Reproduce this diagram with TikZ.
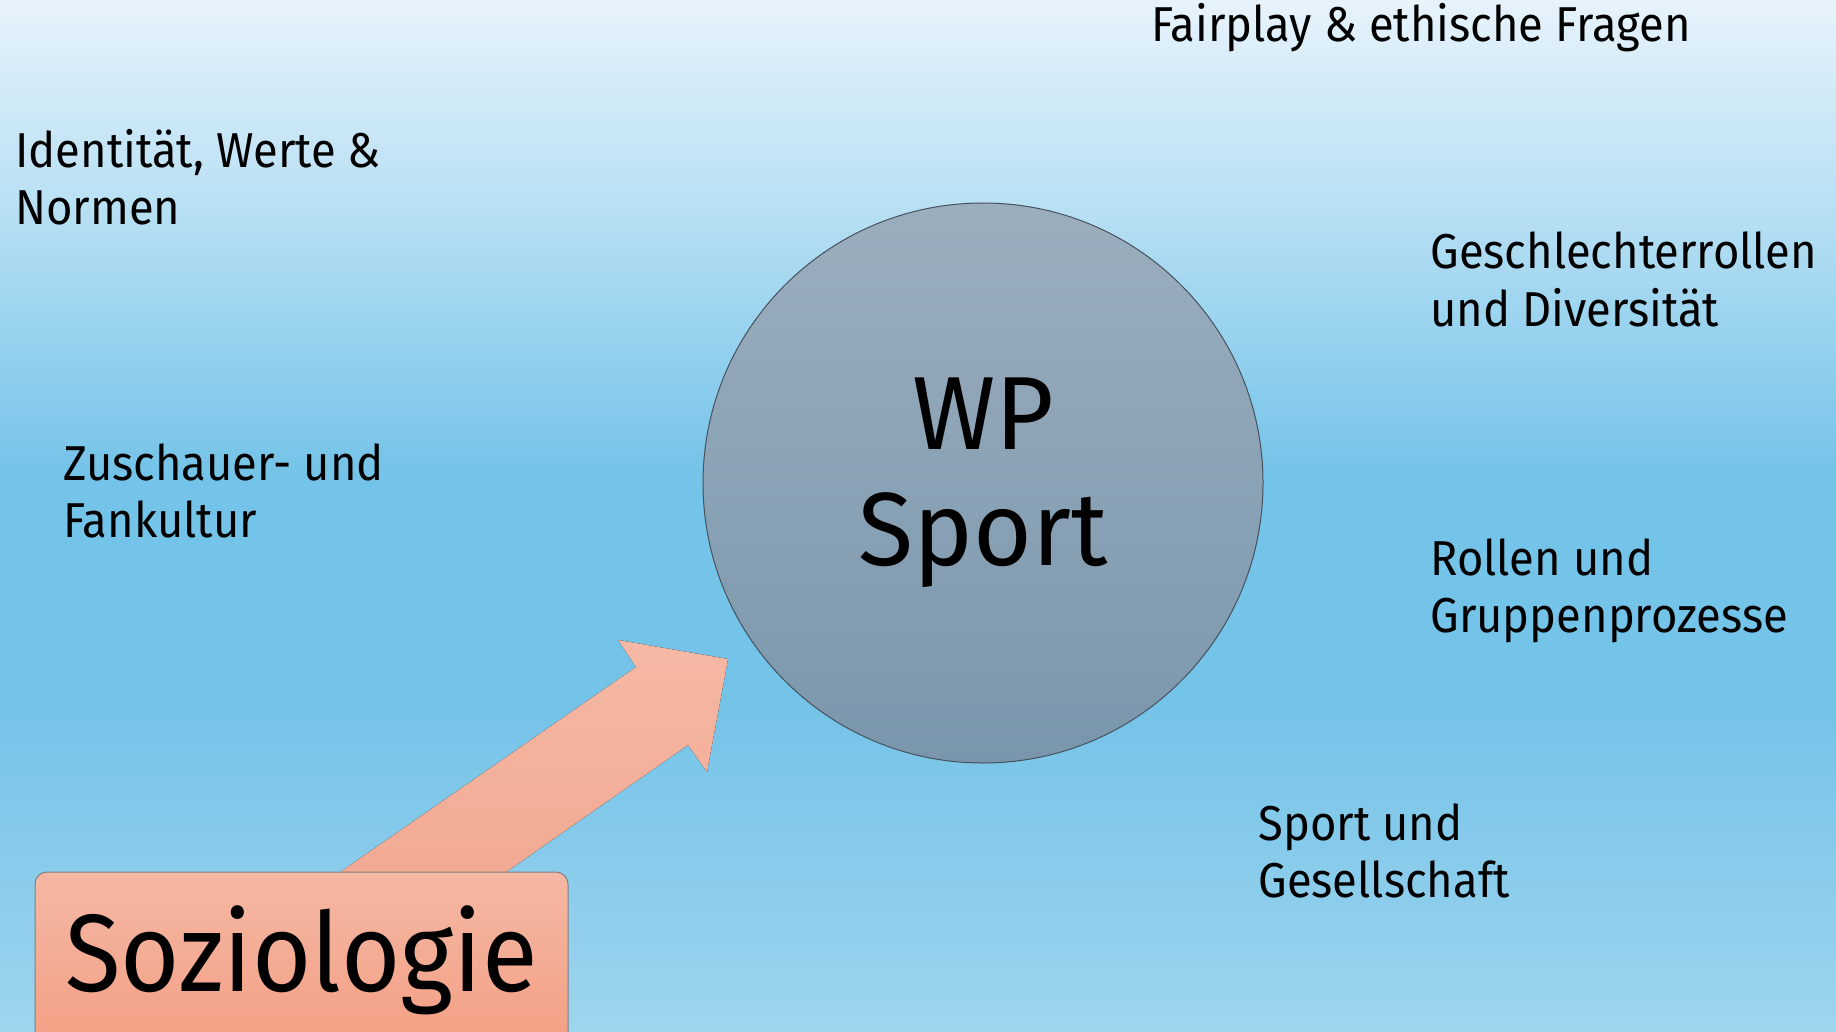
\documentclass[tikz,border=0pt]{standalone}
\usepackage{fontspec}
\setmainfont{Fira Sans}
\newfontfamily\narrowf{Fira Sans}[FakeStretch=0.925]
\newfontfamily\midf{Fira Sans}[FakeStretch=0.97]
\definecolor{bgtop}{HTML}{E7F3FB}
\definecolor{bglight}{HTML}{B8E0F4}
\definecolor{bgmid}{HTML}{74C3E8}
\definecolor{bgbot}{HTML}{9ED4EE}
\definecolor{circtop}{HTML}{9BAEBE}
\definecolor{circbot}{HTML}{7A96AC}
\definecolor{circline}{HTML}{46525C}
\definecolor{arrtop}{HTML}{F5B9A5}
\definecolor{arrbot}{HTML}{F2A891}
\definecolor{boxtop}{HTML}{F5B8A4}
\definecolor{boxbot}{HTML}{F39F83}
\definecolor{boxline}{HTML}{7D7F80}
\pgfdeclareverticalshading{bgshade}{100bp}{color(0bp)=(bgbot); color(25bp)=(bgbot); color(41bp)=(bgmid); color(52bp)=(bgmid); color(65bp)=(bglight); color(75bp)=(bgtop); color(100bp)=(bgtop)}
\begin{document}
\begin{tikzpicture}[x=0.5pt,y=-0.5pt,
  lbl/.style={anchor=base west, align=left, inner sep=0pt, text=black,
    font=\narrowf\fontsize{24.5pt}{28.5pt}\selectfont}]
\useasboundingbox (0,0) rectangle (1836,1032);
\shade[shading=bgshade] (0,0) rectangle (1836,1032);
% arrow
\fill[top color=arrtop, bottom color=arrbot]
  (300,900) -- (636,667) -- (618,640) -- (728,659) -- (707,772) -- (688,745) -- (466,900) -- cycle;
% circle
\node[circle, minimum size=280pt, inner sep=0pt, draw=circline, line width=0.5pt,
  top color=circtop, bottom color=circbot, align=center,
  font=\midf\fontsize{52pt}{58pt}\selectfont] (wp) at (983,483) {WP\\Sport};
% box
\node[rectangle, rounded corners=6pt, minimum width=266.5pt, minimum height=88pt,
  inner sep=0pt, draw=boxline, line width=0.5pt, top color=boxtop, bottom color=boxbot,
  font=\narrowf\fontsize{55pt}{60pt}\selectfont] (soz) at (301.5,960) {Soziologie};
% labels (anchored at the baseline of the last line)
\node[lbl] (fair) at (1151,42) {Fairplay \& ethische Fragen};
\node[lbl] (ident) at (15,225) {Identität, Werte \&\\Normen};
\node[lbl] (gesch) at (1430,326) {Geschlechterrollen\\und Diversität};
\node[lbl] (zusch) at (63,537) {Zuschauer- und\\Fankultur};
\node[lbl] (rollen) at (1430,632) {Rollen und\\Gruppenprozesse};
\node[lbl] (sport) at (1258,897) {Sport und\\Gesellschaft};
\end{tikzpicture}
\end{document}
